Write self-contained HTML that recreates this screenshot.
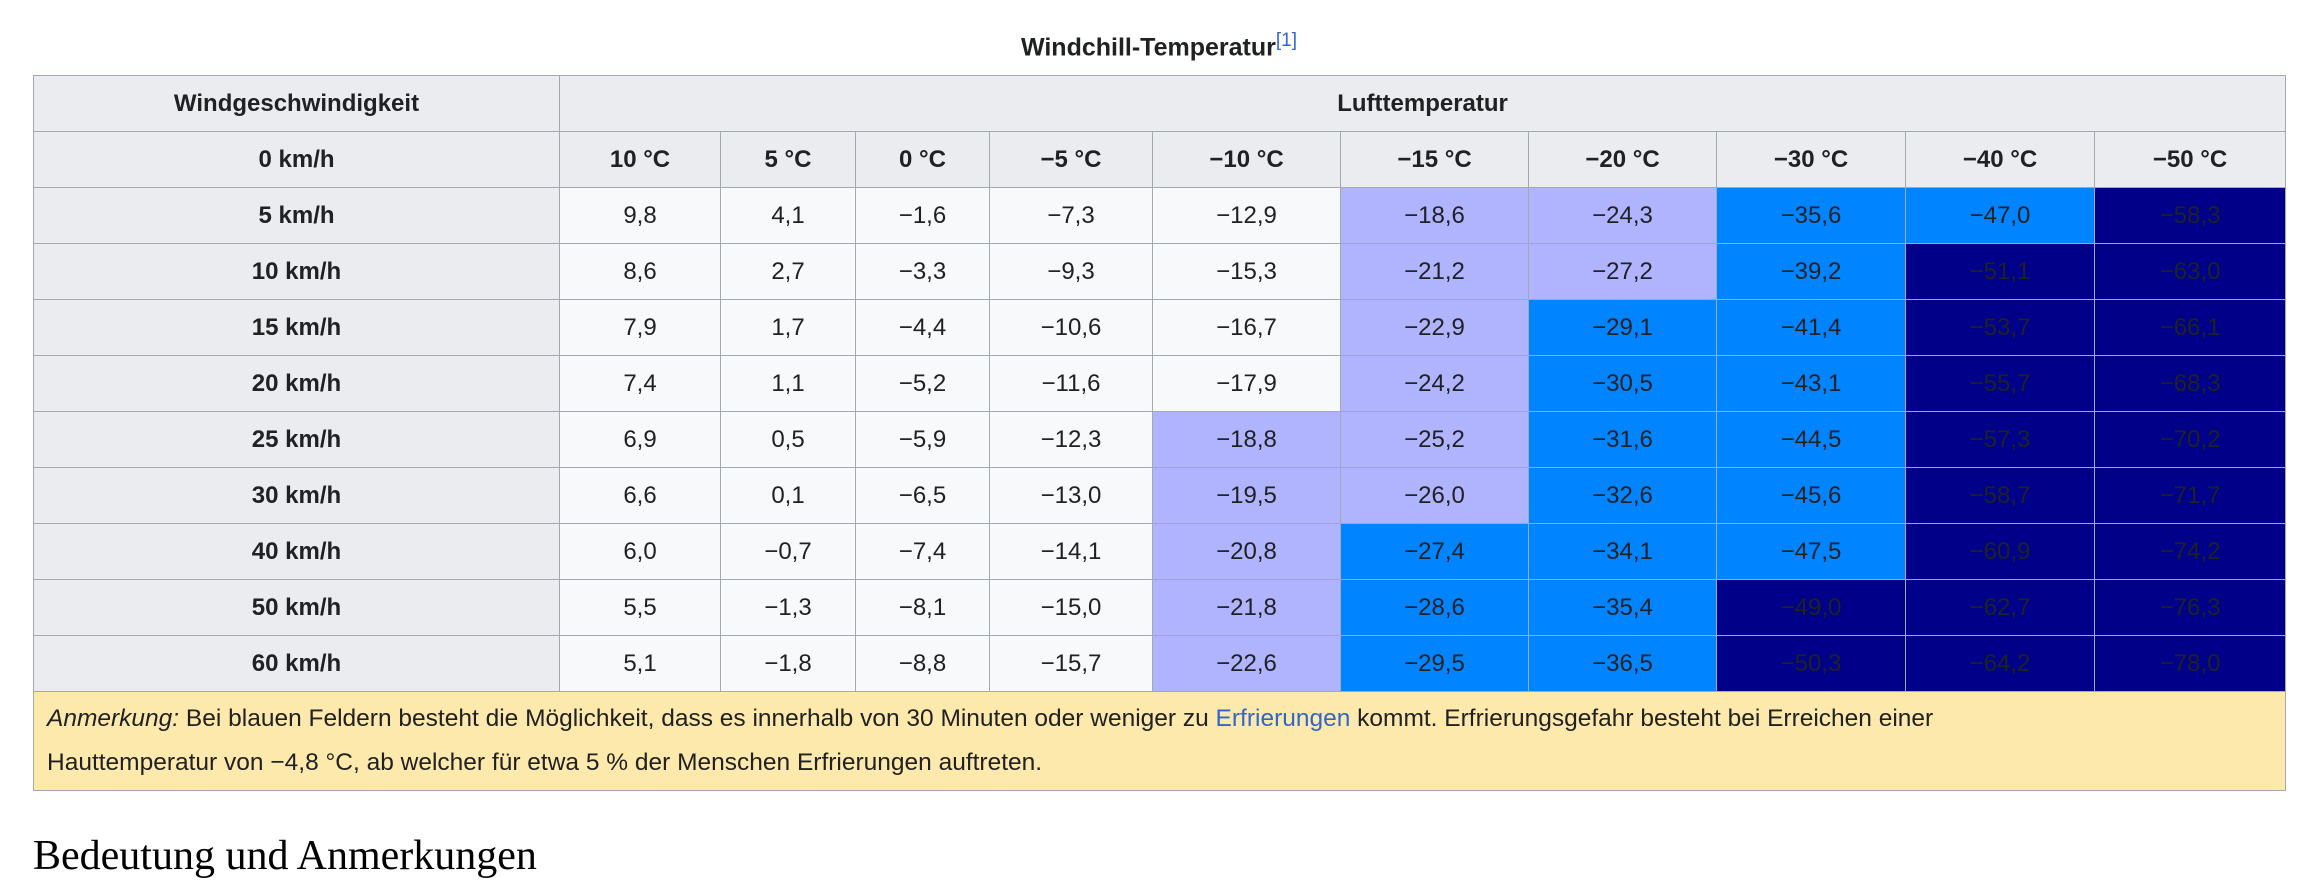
<!DOCTYPE html>
<html><head><meta charset="utf-8">
<style>
html,body{margin:0;padding:0;background:#fff;width:2319px;height:854px;overflow:hidden;font-family:"Liberation Sans",Arial,sans-serif;color:#202122}
#cap{position:absolute;left:33px;width:2252px;top:30px;text-align:center;font-weight:bold;font-size:25px}
#cap sup{font-weight:normal;font-size:19px;color:#3366cc}
table{position:absolute;left:33px;top:75px;width:2252px;border-collapse:collapse;table-layout:fixed;font-size:24px}
td,th{border:1.5px solid #a2a9b1;text-align:center;padding:0;height:55px}
th{background:#eaecf0;font-weight:bold}
td{background:#f8f9fa}
td.l{background:#b0b4ff}
td.b{background:#0084ff}
td.n{background:#000088}
td.note{background:#fee9ad;text-align:left;padding:0 13px;height:98px;line-height:44px;font-size:24.5px}
a{color:#3366cc;text-decoration:none}
#h2{position:absolute;left:33px;top:832px;font-family:"Liberation Serif",serif;font-size:42px;color:#000}
</style></head><body>
<div id="cap">Windchill-Temperatur<sup>[1]</sup></div>
<table id="t">
<colgroup><col style="width:526px"><col style="width:161px"><col style="width:135px"><col style="width:134px"><col style="width:163px"><col style="width:188px"><col style="width:188px"><col style="width:188px"><col style="width:189px"><col style="width:189px"><col style="width:191px"></colgroup>
<tbody id="tb"></tbody>
</table>
<div id="h2">Bedeutung und Anmerkungen</div>
<script>
const temps=["10","5","0","−5","−10","−15","−20","−30","−40","−50"];
const winds=["5","10","15","20","25","30","40","50","60"];
const values=[
[9.8,4.1,-1.6,-7.3,-12.9,-18.6,-24.3,-35.6,-47.0,-58.3],
[8.6,2.7,-3.3,-9.3,-15.3,-21.2,-27.2,-39.2,-51.1,-63.0],
[7.9,1.7,-4.4,-10.6,-16.7,-22.9,-29.1,-41.4,-53.7,-66.1],
[7.4,1.1,-5.2,-11.6,-17.9,-24.2,-30.5,-43.1,-55.7,-68.3],
[6.9,0.5,-5.9,-12.3,-18.8,-25.2,-31.6,-44.5,-57.3,-70.2],
[6.6,0.1,-6.5,-13.0,-19.5,-26.0,-32.6,-45.6,-58.7,-71.7],
[6.0,-0.7,-7.4,-14.1,-20.8,-27.4,-34.1,-47.5,-60.9,-74.2],
[5.5,-1.3,-8.1,-15.0,-21.8,-28.6,-35.4,-49.0,-62.7,-76.3],
[5.1,-1.8,-8.8,-15.7,-22.6,-29.5,-36.5,-50.3,-64.2,-78.0]];
const tb=document.getElementById('tb');
function fmt(v){return (v<0?'−':'')+Math.abs(v).toFixed(1).replace('.',',');}
let r=document.createElement('tr');


r.innerHTML='<th>Windgeschwindigkeit</th><th colspan="10">Lufttemperatur</th>';
tb.appendChild(r);
r=document.createElement('tr');


let h='<th>0 km/h</th>';
temps.forEach(t=>{h+='<th>'+t+' °C</th>';});
r.innerHTML=h;tb.appendChild(r);
winds.forEach((w,i)=>{
  const tr=document.createElement('tr');
  
  
  const th=document.createElement('th');
  
  
  th.textContent=w+' km/h';tr.appendChild(th);
  values[i].forEach(v=>{
    const td=document.createElement('td');
    
    
    td.className=v<=-48?'n':v<=-27.3?'b':v<=-18?'l':'';
    td.textContent=fmt(v);tr.appendChild(td);
  });
  tb.appendChild(tr);
});
r=document.createElement('tr');


r.innerHTML='<td class="note" colspan="11"><i>Anmerkung:</i> Bei blauen Feldern besteht die Möglichkeit, dass es innerhalb von 30 Minuten oder weniger zu <a>Erfrierungen</a> kommt. Erfrierungsgefahr besteht bei Erreichen einer<br>Hauttemperatur von −4,8 °C, ab welcher für etwa 5 % der Menschen Erfrierungen auftreten.</td>';
tb.appendChild(r);
</script>
</body></html>
